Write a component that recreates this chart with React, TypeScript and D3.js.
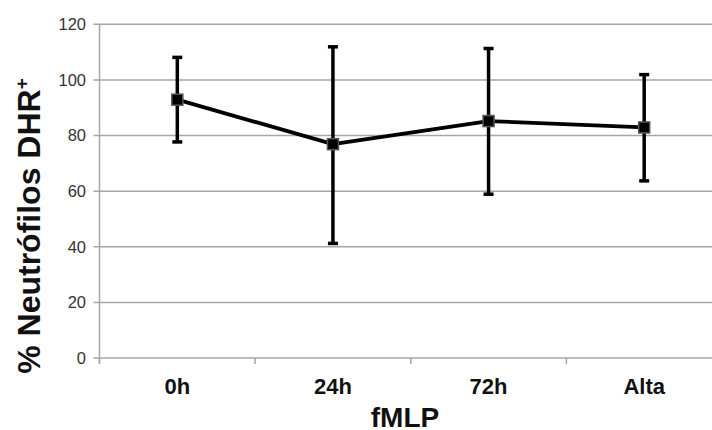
import React from "react";
import * as d3 from "d3";

const categories = ["0h", "24h", "72h", "Alta"];
const means = [92.9, 76.9, 85.2, 82.9];
const upper = [108.1, 111.9, 111.3, 101.9];
const lower = [77.7, 41.2, 58.9, 63.7];
const yTicks = [0, 20, 40, 60, 80, 100, 120];

export default function App() {
  const W = 712, H = 430;
  const left = 99.5, right = 722, top = 24.3, bottom = 358;
  const x = d3.scaleBand<string>().domain(categories).range([left, right]);
  const y = d3.scaleLinear().domain([0, 120]).range([bottom, top]);
  const cx = (c: string) => (x(c) as number) + x.bandwidth() / 2;
  const line = d3.line<number>().x((_, i) => cx(categories[i])).y((d) => y(d));
  const boundaries = d3.range(categories.length + 1).map((i) => left + i * x.bandwidth());
  const font = "'Liberation Sans', Arial, sans-serif";
  return (
    <svg width={W} height={H} style={{ position: "absolute", left: 0, top: 0, background: "#fff" }}>
      <rect width={W} height={H} fill="#fff" />
      {yTicks.map((t) => (
        <g key={t}>
          <line x1={left - 6} x2={right} y1={y(t)} y2={y(t)} stroke="#a6a6a6" strokeWidth={1.5} />
          <text x={86} y={y(t)} dy="0.36em" textAnchor="end" fontFamily={font} fontSize={16.5} fill="#333">{t}</text>
        </g>
      ))}
      <line x1={left} x2={left} y1={top} y2={bottom + 6} stroke="#a6a6a6" strokeWidth={1.5} />
      {boundaries.map((b, i) => (
        <line key={i} x1={b} x2={b} y1={bottom} y2={bottom + 6} stroke="#a6a6a6" strokeWidth={1.5} />
      ))}
      {categories.map((c) => (
        <text key={c} x={cx(c)} y={394} textAnchor="middle" fontFamily={font} fontWeight="bold" fontSize={22} fill="#111">{c}</text>
      ))}
      <text x={405} y={427} textAnchor="middle" fontFamily={font} fontWeight="bold" fontSize={28} fill="#111">fMLP</text>
      <text transform={`translate(40,226) rotate(-90)`} textAnchor="middle" fontFamily={font} fontWeight="bold" fontSize={32} fill="#111">
        % Neutrófilos DHR<tspan fontSize={19} dy={-12}>+</tspan>
      </text>
      {categories.map((c, i) => (
        <g key={c} stroke="#000" strokeWidth={3.5}>
          <line x1={cx(c)} x2={cx(c)} y1={y(upper[i])} y2={y(lower[i])} />
          <line x1={cx(c) - 5} x2={cx(c) + 5} y1={y(upper[i])} y2={y(upper[i])} />
          <line x1={cx(c) - 5} x2={cx(c) + 5} y1={y(lower[i])} y2={y(lower[i])} />
        </g>
      ))}
      <path d={line(means) || ""} fill="none" stroke="#000" strokeWidth={3.8} strokeLinejoin="round" />
      {categories.map((c, i) => (
        <rect key={c} x={cx(c) - 5.5} y={y(means[i]) - 5.5} width={11} height={11} fill="#000" stroke="#555" strokeWidth={1.5} />
      ))}
    </svg>
  );
}
